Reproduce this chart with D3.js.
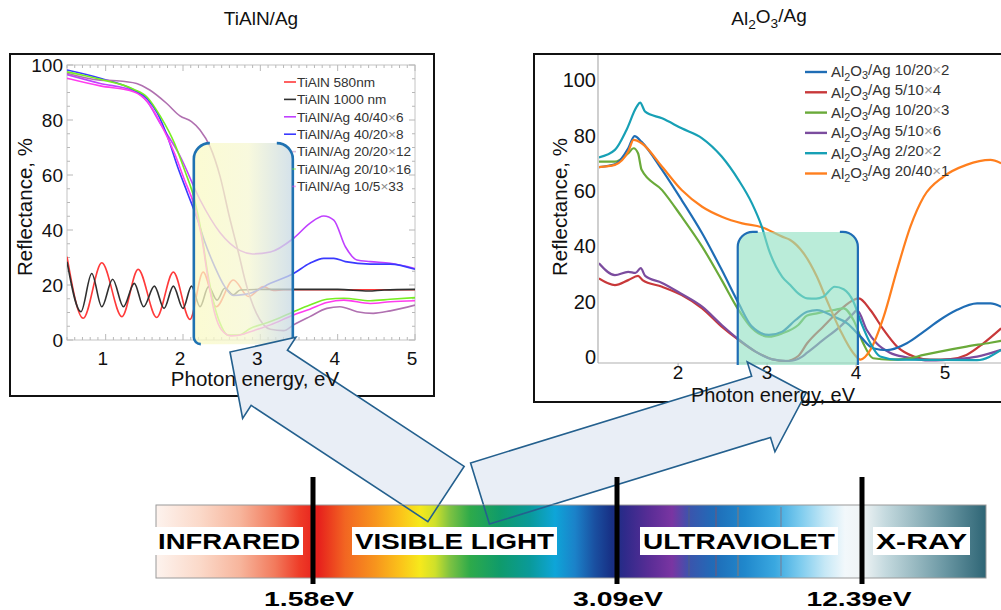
<!DOCTYPE html>
<html>
<head>
<meta charset="utf-8">
<script src="https://cdn.jsdelivr.net/npm/d3@7"></script>
<style>
  body { margin: 0; background: #fff; }
  svg { display: block; }
  text { font-family: "Liberation Sans", Arial, Helvetica, sans-serif; }
</style>
</head>
<body>
<svg id="fig" width="1001" height="610"></svg>
<script>
// ---------------- Reflectance spectra: TiAlN/Ag (energy eV, reflectance %) ----------------
const tialn580 = [[0.5,30.3],[0.71,7.9],[0.95,28.1],[1.21,8.5],[1.42,25.7],[1.66,8.2],[1.875,24.7],[2.09,7.5],
  [2.26,24.7],[2.43,12.1],[2.65,21.8],[2.85,15.8],[3.04,19.4],[3.17,18.0],[3.3,18.3],[5.0,18.3]];
const tialn1000 = [[0.5,28.5],[0.68,10.3],[0.82,24.2],[0.95,12.1],[1.09,22.1],[1.23,12.1],[1.37,20.6],[1.49,12.1],
  [1.63,19.6],[1.755,11.5],[1.875,19.6],[2.0,11.5],[2.11,19.6],[2.22,12.1],[2.33,19.4],[2.44,14.5],[2.54,18.8],
  [2.65,16.4],[2.74,18.2],[3.0,18.4],[4.0,18.4],[4.4,17.8],[4.6,18.2],[5.0,18.4]];
const tialnAg40_40 = [[0.5,96.5],[0.93,93.3],[1.36,90.6],[1.54,86.5],[1.7,79],[1.96,67],[2.22,51],[2.48,39],
  [2.74,32.5],[2.9,31.3],[3.13,32],[3.43,37],[3.64,42.4],[3.82,45.1],[3.95,43.6],[4.1,33.9],[4.25,29.1],
  [4.42,28.5],[4.68,27.9],[5.0,26]];
const tialnAg40_20 = [[0.5,98.2],[0.93,95.2],[1.36,91],[1.54,87.6],[1.67,82.4],[1.8,73.9],[1.93,63],[2.06,53.3],
  [2.19,43.6],[2.28,35.8],[2.41,26.7],[2.54,19.4],[2.65,16.2],[2.8,16.6],[2.87,17],[3.13,20.6],[3.43,24.2],
  [3.64,27.9],[3.82,29.7],[3.95,29.7],[4.1,28.5],[4.42,27.6],[4.68,27.6],[5.0,25.7]];
const tialnAg20_20 = [[0.5,97],[0.93,94.5],[1.14,94.3],[1.4,93.3],[1.57,90.9],[1.79,86],[1.96,81.5],[2.11,79.4],
  [2.22,76.4],[2.35,70.3],[2.48,59.4],[2.6,44.8],[2.73,30.3],[2.8,22],[2.95,9.7],[3.13,3.9],[3.3,3.4],
  [3.43,5.5],[3.64,8.5],[3.86,11.5],[4.03,12.1],[4.25,10.3],[4.46,9.7],[4.68,10.6],[5.0,12.7]];
const tialnAg20_10 = [[0.5,97.5],[0.93,94.8],[1.36,91.2],[1.54,88.2],[1.71,81.2],[1.89,71.5],[2.02,61.8],
  [2.15,50.9],[2.24,38.8],[2.32,24.2],[2.41,12.1],[2.5,4.8],[2.58,1.8],[2.72,1.8],[2.87,4.2],[3.13,6.7],
  [3.43,10.3],[3.64,12.7],[3.86,14.8],[4.08,15.2],[4.42,14.3],[4.68,14.8],[5.0,15.4]];
const tialnAg10_5 = [[0.5,95.2],[0.93,92.4],[1.36,90.3],[1.54,86.7],[1.71,78.8],[1.89,67.9],[2.02,58.2],
  [2.15,48.5],[2.24,37.6],[2.32,23],[2.41,9.7],[2.5,3.6],[2.62,1.5],[2.79,2.2],[2.87,3],[3.13,5.5],
  [3.43,9.1],[3.64,11.2],[3.86,13.6],[4.08,14.5],[4.42,13.3],[4.68,13.9],[5.0,14.3]];

const tialnNames = ["TiAlN 580nm", "TiAlN 1000 nm", "TiAlN/Ag 40/40\u00d76", "TiAlN/Ag 40/20\u00d78",
  "TiAlN/Ag 20/20\u00d712", "TiAlN/Ag 20/10\u00d716", "TiAlN/Ag 10/5\u00d733"];
const tialnColors = ["#ff3a3a", "#303030", "#c040ff", "#3a3aff", "#b070b0", "#77ee22", "#ff3cee"];
const tialnSeries = [tialn580, tialn1000, tialnAg40_40, tialnAg40_20, tialnAg20_20, tialnAg20_10, tialnAg10_5];

// ---------------- Reflectance spectra: Al2O3/Ag ----------------
const alAg10_20x2 = [[1.11,70],[1.29,71],[1.44,76.8],[1.51,81.2],[1.59,79.1],[1.82,69],[2.04,58.1],[2.27,46.1],
  [2.49,32.9],[2.68,20.8],[2.83,12.4],[3.02,9.4],[3.17,10.6],[3.32,14.8],[3.45,17.8],[3.56,18.4],[3.75,16],
  [3.9,13.6],[4.05,8.8],[4.19,4.6],[4.35,3.9],[4.57,6.4],[4.76,10.6],[4.94,14.8],[5.13,18.4],[5.36,20.8],
  [5.51,20.8],[5.63,19.6]];
const alAg5_10x4 = [[1.11,29.8],[1.29,27.4],[1.44,29.2],[1.55,30.7],[1.6,29.2],[1.82,26.8],[2.04,23.8],[2.27,19],
  [2.49,12.4],[2.68,7.6],[2.87,3.4],[3.06,0.6],[3.21,0],[3.35,1.8],[3.45,6.4],[3.63,12.4],[3.82,18.4],
  [3.97,22],[4.03,22.6],[4.16,18.4],[4.31,11.2],[4.46,5.2],[4.65,1.6],[4.83,0.5],[5.06,0.7],[5.24,2.2],
  [5.43,6.4],[5.63,11.8]];
const alAg10_20x3 = [[1.11,72],[1.29,72],[1.44,75],[1.5,76.8],[1.55,75],[1.59,69],[1.82,61.7],[2.04,52.1],
  [2.27,41.3],[2.49,29.2],[2.68,18.4],[2.83,11.8],[3.02,8.8],[3.17,10],[3.35,13],[3.45,16.4],[3.56,17.2],
  [3.75,18.4],[3.86,19],[3.97,14.8],[4.08,6.4],[4.19,1],[4.38,0.5],[4.57,0.8],[4.76,2.2],[4.94,3.4],
  [5.24,5.2],[5.51,6.6],[5.63,7.3]];
const alAg5_10x6 = [[1.11,35.3],[1.29,31],[1.44,32.2],[1.52,31.8],[1.58,33.5],[1.63,30.7],[1.82,28.2],[2.04,24.2],
  [2.27,19.6],[2.49,13],[2.68,7.8],[2.87,3.4],[3.06,0.6],[3.24,0],[3.39,1.5],[3.45,3],[3.63,7.6],[3.82,12.4],
  [3.97,17.2],[4.01,18.4],[4.12,11.2],[4.23,6.4],[4.38,3],[4.57,1.3],[4.83,0.2],[5.13,0.7],[5.36,1.6],[5.63,4]];
const alAg2_20x2 = [[1.11,73.5],[1.29,76.2],[1.42,83.4],[1.535,91.8],[1.573,93.3],[1.63,90],[1.82,87.6],[2.04,84],
  [2.27,80.4],[2.49,73.8],[2.68,65.3],[2.83,56.9],[2.94,48.5],[3.02,40.1],[3.17,30.4],[3.26,27.4],[3.35,24.4],
  [3.45,22.6],[3.55,22.5],[3.63,23.2],[3.76,26.8],[3.86,25.9],[3.97,21.4],[4.06,13.6],[4.16,6.4],[4.27,1.6],
  [4.46,0.5],[5.36,0.3],[5.63,4]];
const alAg20_40x1 = [[1.11,70],[1.29,70.8],[1.44,75.6],[1.5,79.8],[1.59,78.6],[1.82,70.1],[2.04,61.7],[2.27,55.7],
  [2.49,52.1],[2.72,49.7],[2.94,48.3],[3.17,44.9],[3.26,43.7],[3.41,38.9],[3.56,30.4],[3.67,22],[3.82,11.2],
  [3.97,2.8],[4.05,0.5],[4.16,4],[4.31,16],[4.46,32.9],[4.61,48.5],[4.76,59.3],[4.98,66.5],[5.24,70.8],
  [5.51,72.6],[5.63,71.4]];

const alLabels = ["10/20\u00d72", "5/10\u00d74", "10/20\u00d73", "5/10\u00d76", "2/20\u00d72", "20/40\u00d71"];
const alColors = ["#1f6db5", "#c8383a", "#6aaa3a", "#7b4c9e", "#17a0b5", "#ff7f1e"];
const alSeries = [alAg10_20x2, alAg5_10x4, alAg10_20x3, alAg5_10x6, alAg2_20x2, alAg20_40x1];

// Axis ticks
const tialnXTicks = [1, 2, 3, 4, 5];
const alXTicks = [2, 3, 4, 5];
const reflTicks = [0, 20, 40, 60, 80, 100];

// Highlighted energy windows (eV, %)
const tialnWindow = { x0: 2.14, x1: 3.42, top: 71.6, bottom: -1.5 };
const alWindow = { x0: 2.67, x1: 4.02, top: 46.6, bottom: -1.4 };

// Electromagnetic spectrum strip
const bandNames = ["INFRARED", "VISIBLE LIGHT", "ULTRAVIOLET", "X-RAY"];
const boundaryLabels = ["1.58eV", "3.09eV", "12.39eV"];

// ======================================================================
const svg = d3.select("#fig");
const defs = svg.append("defs");
svg.append("rect").attr("width", 1001).attr("height", 610).attr("fill", "#fff");

// ---------- panel titles ----------
svg.append("text").attr("x", 261).attr("y", 25).attr("text-anchor", "middle")
  .attr("font-size", 19).attr("fill", "#111").text("TiAlN/Ag");
const t2 = svg.append("text").attr("x", 769).attr("y", 25).attr("text-anchor", "middle")
  .attr("font-size", 19).attr("fill", "#111");
function chem(sel, parts) {
  // parts: array of [text, isSubscript]
  parts.forEach(([s, sub], i) => {
    const prevSub = i > 0 && parts[i - 1][1];
    const ts = sel.append("tspan").text(s);
    if (sub) ts.attr("font-size", "0.72em").attr("dy", "0.3em");
    else if (prevSub) ts.attr("dy", "-0.3em");
  });
}
chem(t2, [["Al", false], ["2", true], ["O", false], ["3", true], ["/Ag", false]]);

// ---------- panel frames ----------
svg.append("rect").attr("x", 10).attr("y", 54).attr("width", 424).attr("height", 342)
  .attr("fill", "none").attr("stroke", "#111").attr("stroke-width", 2);
svg.append("rect").attr("x", 534).attr("y", 54).attr("width", 480).attr("height", 348)
  .attr("fill", "none").attr("stroke", "#111").attr("stroke-width", 2);

// ====================== Left chart: TiAlN/Ag ======================
const xL = d3.scaleLinear().domain([0.5, 5]).range([67, 415]);
const yL = d3.scaleLinear().domain([0, 100]).range([340, 65]);
const gL = svg.append("g");

gL.append("rect").attr("x", xL(0.5)).attr("y", yL(100)).attr("width", xL(5) - xL(0.5))
  .attr("height", yL(0) - yL(100)).attr("fill", "none").attr("stroke", "#c4c4c4").attr("stroke-width", 1);

// frame ticks on all four sides
const minorX = d3.range(5, 51).map(d => d / 10);
minorX.forEach(v => {
  const major = Math.abs(v - Math.round(v)) < 1e-6;
  const len = major ? 6 : 3;
  gL.append("line").attr("x1", xL(v)).attr("x2", xL(v)).attr("y1", yL(0)).attr("y2", yL(0) - len)
    .attr("stroke", "#b8b8b8");
  gL.append("line").attr("x1", xL(v)).attr("x2", xL(v)).attr("y1", yL(100)).attr("y2", yL(100) + len)
    .attr("stroke", "#b8b8b8");
});
d3.range(0, 101, 5).forEach(v => {
  const len = v % 20 === 0 ? 6 : 3;
  gL.append("line").attr("x1", xL(0.5)).attr("x2", xL(0.5) + len).attr("y1", yL(v)).attr("y2", yL(v))
    .attr("stroke", "#b8b8b8");
  gL.append("line").attr("x1", xL(5)).attr("x2", xL(5) - len).attr("y1", yL(v)).attr("y2", yL(v))
    .attr("stroke", "#b8b8b8");
});

defs.append("clipPath").attr("id", "clipL").append("rect")
  .attr("x", xL(0.5)).attr("y", yL(100)).attr("width", xL(5) - xL(0.5)).attr("height", yL(0) - yL(100));

const lineL = d3.line().x(d => xL(d[0])).y(d => yL(d[1])).curve(d3.curveMonotoneX);
const curvesL = gL.append("g").attr("clip-path", "url(#clipL)");
tialnSeries.forEach((s, i) => {
  curvesL.append("path").attr("d", lineL(s)).attr("fill", "none")
    .attr("stroke", tialnColors[i]).attr("stroke-width", 1.6);
});

// highlighted window with soft gradient
const gradL = defs.append("linearGradient").attr("id", "gradL").attr("x1", "0").attr("x2", "1").attr("y1", "0").attr("y2", "0");
gradL.append("stop").attr("offset", "0").attr("stop-color", "#fafac4");
gradL.append("stop").attr("offset", "0.55").attr("stop-color", "#f6f7d2");
gradL.append("stop").attr("offset", "1").attr("stop-color", "#c6d8e4");
{
  const x0 = xL(tialnWindow.x0), x1 = xL(tialnWindow.x1), yt = yL(tialnWindow.top), yb = yL(tialnWindow.bottom);
  const r = 16, rb = 7;
  const fillPath = `M${x0 + r},${yt} L${x1 - r},${yt} A${r},${r} 0 0 1 ${x1},${yt + r} L${x1},${yb - rb}
    A${rb},${rb} 0 0 1 ${x1 - rb},${yb} L${x0 + rb},${yb} A${rb},${rb} 0 0 1 ${x0},${yb - rb}
    L${x0},${yt + r} A${r},${r} 0 0 1 ${x0 + r},${yt} Z`;
  gL.append("path").attr("d", fillPath).attr("fill", "url(#gradL)").attr("opacity", 0.75);
  gL.append("path").attr("d", `M${x0 + r},${yt} A${r},${r} 0 0 0 ${x0},${yt + r} L${x0},${yb - rb} A${rb},${rb} 0 0 0 ${x0 + rb},${yb}`)
    .attr("fill", "none").attr("stroke", "#1f72b2").attr("stroke-width", 2.6);
  gL.append("path").attr("d", `M${x1 - r},${yt} A${r},${r} 0 0 1 ${x1},${yt + r} L${x1},${yb - rb} A${rb},${rb} 0 0 1 ${x1 - rb},${yb}`)
    .attr("fill", "none").attr("stroke", "#1f72b2").attr("stroke-width", 2.6);
}

// ====================== Right chart: Al2O3/Ag ======================
const xR = d3.scaleLinear().domain([1.1, 5.7]).range([598, 1007.4]);
const yR = d3.scaleLinear().domain([0, 100]).range([361, 84]);
const gR = svg.append("g");

gR.append("line").attr("x1", 598).attr("x2", 598).attr("y1", 55).attr("y2", 363).attr("stroke", "#b0b0b0").attr("stroke-width", 1.2);
gR.append("line").attr("x1", 598).attr("x2", 1001).attr("y1", 363).attr("y2", 363).attr("stroke", "#b0b0b0").attr("stroke-width", 1.2);
alXTicks.forEach(v => {
  gR.append("line").attr("x1", xR(v)).attr("x2", xR(v)).attr("y1", 363).attr("y2", 367).attr("stroke", "#b0b0b0");
});

defs.append("clipPath").attr("id", "clipR").append("rect")
  .attr("x", 599).attr("y", 56).attr("width", 402).attr("height", 310);
const lineR = d3.line().x(d => xR(d[0])).y(d => yR(d[1])).curve(d3.curveMonotoneX);
const curvesR = gR.append("g").attr("clip-path", "url(#clipR)");
const drawOrder = [1, 3, 2, 0, 5, 4];
drawOrder.forEach(i => {
  curvesR.append("path").attr("d", lineR(alSeries[i])).attr("fill", "none")
    .attr("stroke", alColors[i]).attr("stroke-width", 2.2).attr("stroke-linejoin", "round");
});

{
  const x0 = xR(alWindow.x0), x1 = xR(alWindow.x1), yt = yR(alWindow.top), yb = yR(alWindow.bottom);
  const r = 15;
  gR.append("path").attr("d", `M${x0 + r},${yt} L${x1 - r},${yt} A${r},${r} 0 0 1 ${x1},${yt + r} L${x1},${yb} L${x0},${yb} L${x0},${yt + r} A${r},${r} 0 0 1 ${x0 + r},${yt} Z`)
    .attr("fill", "#8fe0c1").attr("opacity", 0.62);
  gR.append("path").attr("d", `M${x0 + r + 5},${yt} L${x0 + r},${yt} A${r},${r} 0 0 0 ${x0},${yt + r} L${x0},${yb}`)
    .attr("fill", "none").attr("stroke", "#1f6db5").attr("stroke-width", 2.2);
  gR.append("path").attr("d", `M${x1 - r - 3},${yt} L${x1 - r},${yt} A${r},${r} 0 0 1 ${x1},${yt + r} L${x1},${yb}`)
    .attr("fill", "none").attr("stroke", "#1f6db5").attr("stroke-width", 2.2);
}

// ====================== Spectrum strip ======================
const barX0 = 156, barX1 = 986, barY0 = 505, barY1 = 578;
const specStops = [
  [156, "#fdf3ee"], [200, "#fbd9c9"], [240, "#f7b59c"], [275, "#f27a5c"], [300, "#ee3b27"], [318, "#e61f1c"],
  [345, "#f26522"], [375, "#f7941d"], [400, "#fbc21a"], [420, "#f6e91c"], [435, "#cfe02a"], [450, "#7dc242"],
  [470, "#2eaa4a"], [500, "#0f9b6b"], [530, "#0a9a9a"], [555, "#0ea5d8"], [575, "#1b82c9"], [595, "#1a4fa0"],
  [612, "#172f84"], [625, "#2f2a8a"], [650, "#5a2d96"], [672, "#7a35a2"], [690, "#3a55ad"], [715, "#1f6db8"],
  [745, "#2088cc"], [775, "#3aa8e0"], [800, "#7ccbee"], [825, "#c6e8f6"], [845, "#f2f8fb"], [862, "#f0f4f5"],
  [885, "#c5dadf"], [915, "#98b9c1"], [945, "#6a97a3"], [986, "#2e6575"]];
const gradS = defs.append("linearGradient").attr("id", "gradS").attr("x1", "0").attr("x2", "1").attr("y1", "0").attr("y2", "0");
specStops.forEach(([x, c]) => gradS.append("stop").attr("offset", (x - barX0) / (barX1 - barX0)).attr("stop-color", c));
const gS = svg.append("g");
gS.append("rect").attr("x", barX0).attr("y", barY0).attr("width", barX1 - barX0).attr("height", barY1 - barY0)
  .attr("fill", "url(#gradS)").attr("stroke", "#9a9a9a").attr("stroke-width", 1);
[[689, "#666"], [716, "#c04040"], [738, "#e07030"], [781, "#a05050"]].forEach(([x, c]) => {
  gS.append("line").attr("x1", x).attr("x2", x).attr("y1", barY0 + 2).attr("y2", barY1 - 2)
    .attr("stroke", c).attr("stroke-width", 1).attr("opacity", 0.55);
});

// ====================== Block arrows ======================
function arrowPoints(tail, tip, sw, hw, hl) {
  const dx = tip[0] - tail[0], dy = tip[1] - tail[1], L = Math.hypot(dx, dy);
  const ux = dx / L, uy = dy / L, nx = -uy, ny = ux;
  const bx = tip[0] - ux * hl, by = tip[1] - uy * hl;
  return [
    [tail[0] + nx * sw / 2, tail[1] + ny * sw / 2], [bx + nx * sw / 2, by + ny * sw / 2],
    [bx + nx * hw / 2, by + ny * hw / 2], tip, [bx - nx * hw / 2, by - ny * hw / 2],
    [bx - nx * sw / 2, by - ny * sw / 2], [tail[0] - nx * sw / 2, tail[1] - ny * sw / 2]];
}
const arrows = [
  arrowPoints([446, 494], [230, 352], 66, 97, 47),
  arrowPoints([480, 493.5], [806, 393], 64, 94, 47)
];
defs.append("clipPath").attr("id", "clipAbove").append("rect").attr("x", 0).attr("y", 0).attr("width", 1001).attr("height", barY0);
const gA = svg.append("g");
arrows.forEach(p => {
  const d = "M" + p.map(q => q.join(",")).join("L") + "Z";
  gA.append("path").attr("d", d).attr("fill", "#e9eef6").attr("clip-path", "url(#clipAbove)");
  gA.append("path").attr("d", d).attr("fill", "none").attr("stroke", "#24608e").attr("stroke-width", 1.6)
    .attr("stroke-linejoin", "miter");
});

// boundary markers over the strip
const boundaries = [313, 617, 862];
boundaries.forEach(x => {
  gS.append("line").attr("x1", x).attr("x2", x).attr("y1", 477).attr("y2", 584)
    .attr("stroke", "#000").attr("stroke-width", 5);
});
svg.node().appendChild(gS.node());
// arrow outlines continue over the strip
defs.append("clipPath").attr("id", "clipBar").append("rect").attr("x", 0).attr("y", barY0).attr("width", 1001).attr("height", 200);
arrows.forEach(p => {
  const d = "M" + p.map(q => q.join(",")).join("L") + "Z";
  svg.append("path").attr("d", d).attr("fill", "none").attr("stroke", "#24608e").attr("stroke-width", 1.6)
    .attr("clip-path", "url(#clipBar)");
});

const bandBoxes = [[155, 303], [352, 557], [640, 838], [873, 970]];
bandNames.forEach((name, i) => {
  const [a, b] = bandBoxes[i];
  svg.append("rect").attr("x", a).attr("y", 527).attr("width", b - a).attr("height", 28).attr("fill", "#fff");
  svg.append("text").attr("x", a + 3).attr("y", 549).attr("font-size", 22).attr("font-weight", "bold")
    .attr("textLength", b - a - 6).attr("lengthAdjust", "spacingAndGlyphs").attr("fill", "#000").text(name);
});
const boundaryCenters = [309, 618, 859];
const boundaryWidths = [90, 90, 105];
boundaryLabels.forEach((s, i) => {
  svg.append("text").attr("x", boundaryCenters[i] - boundaryWidths[i] / 2).attr("y", 606)
    .attr("font-size", 21).attr("font-weight", "bold").attr("fill", "#000")
    .attr("textLength", boundaryWidths[i]).attr("lengthAdjust", "spacingAndGlyphs").text(s);
});

// ====================== Axis labels & legends (drawn on top) ======================
const txt = svg.append("g").attr("fill", "#111");
// left chart ticks
reflTicks.forEach(v => {
  txt.append("text").attr("x", 63).attr("y", yL(v)).attr("dy", "0.36em").attr("text-anchor", "end")
    .attr("font-size", 19).text(v);
});
tialnXTicks.forEach(v => {
  txt.append("text").attr("x", xL(v) - 3).attr("y", 358).attr("dy", "0.36em").attr("text-anchor", "middle")
    .attr("font-size", 19).text(v);
});
txt.append("text").attr("x", 255).attr("y", 386).attr("text-anchor", "middle").attr("font-size", 20.5)
  .text("Photon energy, eV");
txt.append("text").attr("transform", "translate(32,207) rotate(-90)").attr("text-anchor", "middle")
  .attr("font-size", 20.5).text("Reflectance, %");

// right chart ticks
reflTicks.forEach(v => {
  txt.append("text").attr("x", 596).attr("y", yR(v) - 4).attr("dy", "0.36em").attr("text-anchor", "end")
    .attr("font-size", 20).text(v);
});
alXTicks.forEach(v => {
  txt.append("text").attr("x", xR(v)).attr("y", 372).attr("dy", "0.36em").attr("text-anchor", "middle")
    .attr("font-size", 19).text(v);
});
txt.append("text").attr("x", 773).attr("y", 401.5).attr("text-anchor", "middle").attr("font-size", 20)
  .text("Photon energy, eV");
txt.append("text").attr("transform", "translate(567,207) rotate(-90)").attr("text-anchor", "middle")
  .attr("font-size", 20.5).text("Reflectance, %");

// left legend
tialnNames.forEach((name, i) => {
  const y = 82 + i * 17.4;
  const faint = i >= 4;
  txt.append("line").attr("x1", faint ? 292 : 284).attr("x2", 296).attr("y1", y).attr("y2", y)
    .attr("stroke", tialnColors[i]).attr("stroke-width", 1.6).attr("opacity", faint ? 0.45 : 1);
  const t = txt.append("text").attr("x", 297).attr("y", y).attr("dy", "0.36em").attr("font-size", 13.6).attr("fill", "#333");
  const parts = name.split("\u00d7");
  t.append("tspan").text(parts[0]);
  if (parts.length > 1) {
    t.append("tspan").attr("fill", "#888").text("\u00d7");
    t.append("tspan").text(parts[1]);
  }
});

// right legend
alLabels.forEach((lab, i) => {
  const y = 72 + i * 20.3;
  txt.append("line").attr("x1", 805).attr("x2", 827).attr("y1", y).attr("y2", y)
    .attr("stroke", alColors[i]).attr("stroke-width", 2.4);
  const t = txt.append("text").attr("x", 831).attr("y", y).attr("dy", "0.36em").attr("font-size", 15).attr("fill", "#333");
  const [a, b] = lab.split("\u00d7");
  chem(t, [["Al", false], ["2", true], ["O", false], ["3", true], ["/Ag " + a, false]]);
  t.append("tspan").attr("fill", "#999").text("\u00d7");
  t.append("tspan").text(b);
});
</script>
</body>
</html>
